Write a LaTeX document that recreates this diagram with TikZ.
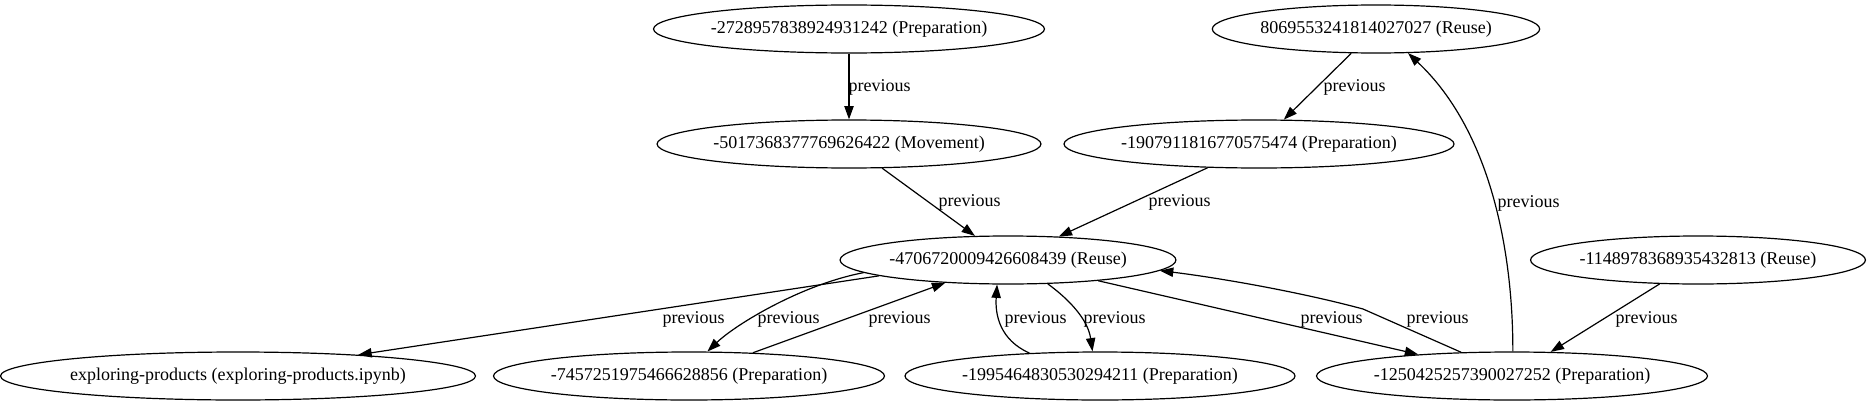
\documentclass[tikz,border=0pt]{standalone}
\usepackage{fontspec}
\setmainfont{Liberation Serif}
\usetikzlibrary{arrows.meta,shapes.geometric}

\begin{document}
\begin{tikzpicture}[x=0.75pt,y=-0.75pt,line width=0.9pt,
  box/.style={ellipse,draw,inner xsep=0pt,inner ysep=2pt,minimum height=36pt,font=\fontsize{13.5}{16}\selectfont},
  lbl/.style={anchor=west,inner sep=0pt,font=\fontsize{13.5}{16}\selectfont},
  prev/.style={-{Triangle[length=10pt,width=7pt]}}]
\useasboundingbox (0,0) rectangle (1873,407);
% Cells, row by row
\node[box] (p272) at (849,29) {-2728957838924931242 (Preparation)};
\node[box] (r806) at (1376,29) {8069553241814027027 (Reuse)};
\node[box] (m501) at (849,144) {-5017368377769626422 (Movement)};
\node[box] (p190) at (1259,144) {-1907911816770575474 (Preparation)};
\node[box] (r470) at (1008,260) {-4706720009426608439 (Reuse)};
\node[box] (r114) at (1698,260) {-1148978368935432813 (Reuse)};
\node[box] (nb) at (238,376) {exploring-products (exploring-products.ipynb)};
\node[box] (p745) at (689,376) {-7457251975466628856 (Preparation)};
\node[box] (p199) at (1100,376) {-1995464830530294211 (Preparation)};
\node[box] (p125) at (1512,376) {-1250425257390027252 (Preparation)};
% Straight links
\draw[prev] (p272) -- (m501);
\draw[prev] (r806) -- (p190);
\draw[prev] (m501) -- (r470);
\draw[prev] (p190) -- (r470);
\draw[prev] (r470.187) -- (nb.10);
\draw[prev] (p745) -- (r470);
\draw[prev] (r470) -- (p125);
\draw[prev] (r114) -- (p125);
% Bent links
\draw[prev] (r470.185) .. controls (800,285) and (735,325) .. (p745.53);
\draw[prev] (p199.162) .. controls (1000,340) and (995,315) .. (r470.246);
\draw[prev] (r470.329) .. controls (1070,300) and (1088,320) .. (p199.107);
\coordinate (bend) at (1363,309);
\draw[prev] (p125.155) -- (bend) .. controls (1300,292) and (1220,278) .. (r470.356);
\draw[prev] (p125.88) .. controls (1513,250) and (1490,130) .. (r806.323);
% Edge labels
\foreach \x/\y [count=\i] in {848/87,1323/87,938/202,1148/202,662/319,757/319,868/319,1004/319,1083/319,1300/319,1406/319,1497/203,1615/319}
  \node[lbl] (lbl\i) at (\x,\y) {previous};
\end{tikzpicture}
\end{document}
